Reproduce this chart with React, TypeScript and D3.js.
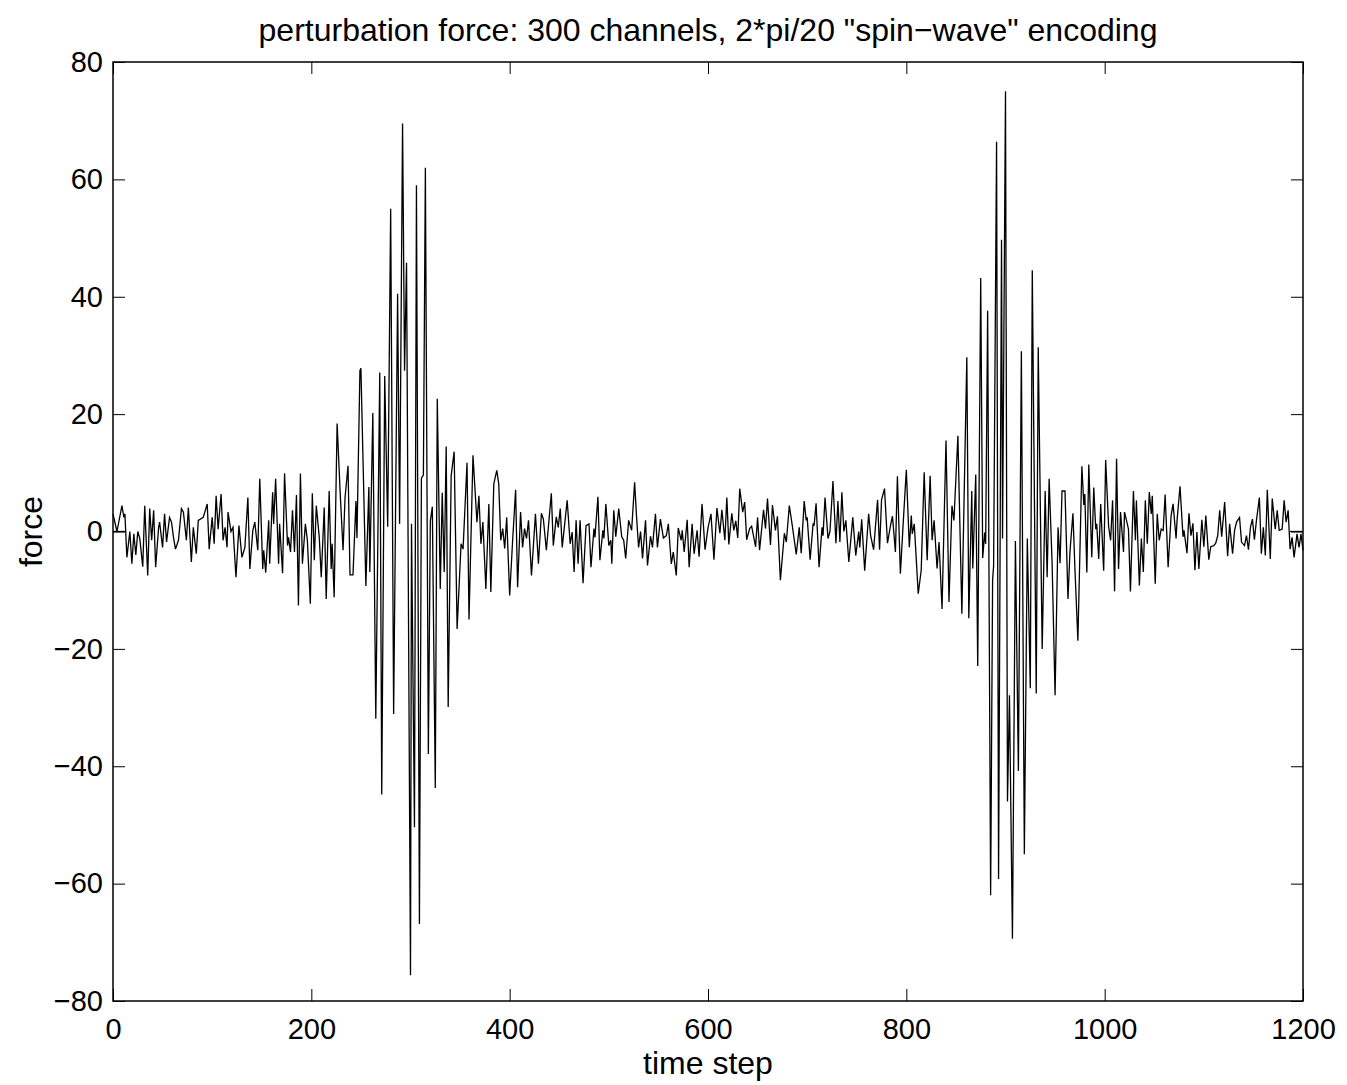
import { useEffect, useRef } from 'react';
import * as d3 from 'd3';

// [time step, force] samples, split by region
const leadIn: [number, number][] = [
  [0, 3], [4, 0], [9, 4.4], [11, 2.4], [12, 3], [14, -4.4], [17, 0], [19, -5.5], [21, -0.4], [23, -4],
  [25, 0], [27, -1.2], [30, -6], [32, 4.4], [35, -7.5], [37, 3.9], [39, -1.5], [41, 3.6], [43, -6.1], [46, 0.7],
  [47, 1.6], [50, -2.7], [52, 3], [54, -1.8], [57, 2.4], [59, 1.6], [61, -1], [63, -3], [66, -1.5], [69, 3.9],
  [71, 3.3], [74, -1.5], [76, 4.1], [79, -5.2], [81, 0.7], [84, -3.8], [86, 1.9], [91, 2.4], [95, 4.7], [97, -3],
  [100, 2.4], [102, -2.1], [104, 6.1], [106, 0.4], [109, 6.4], [111, -1.5], [113, 0.7], [115, -2.7], [116, 3.3], [119, 0],
  [121, 0.7], [124, -7.8], [127, 1], [130, -4.4], [133, -2.7], [136, 5.8], [138, -6.4], [141, 0.2], [143, 1.6], [146, -3.2],
  [148, 9], [151, -6.4], [152, -3.2], [154, -7], [157, 1.9], [158, -5.5], [161, 6.7], [162, 1.3], [164, 9], [167, -5.5],
  [168, 1.3], [171, -7.1], [173, 9.9], [176, -2.4], [177, -1], [179, -3.5], [181, 3.6], [183, -3.5], [185, 6.2], [187, -12.6],
  [189, 9.9], [191, -5.5], [194, 1.3], [196, -1.5], [199, -12.3], [201, 6.5], [203, -4.9], [205, 4.4], [208, -1], [210, -7.8],
  [213, 4.1], [215, -11.5], [218, 6.9], [220, -6.4], [221, -2.1], [223, -11.2],
];

const burstA: [number, number][] = [
  [226, 18.4], [229, 6.9], [232, -3.2], [234, 5.8], [237, 11.2], [239, -7.4], [242, -7.4], [245, 5.2], [246, -1.1], [249, 27.4],
  [250, 27.8], [253, 5.7], [255, -9.3], [258, 7.6], [259, -6.9], [262, 20.2], [265, -31.9], [269, 27.1], [271, -44.8], [274, 26.5],
  [277, 0.8], [280, 55], [283, -31.1], [287, 40.5], [289, 1.3], [292, 69.5], [294, 27.4], [296, 45.8], [300, -75.6], [301, 1.3],
  [304, -50.4], [306, 59], [309, -66.9], [311, 9.1], [313, 9.6], [315, 62], [318, -37.9], [320, 1.8], [322, 4.2], [325, -43.7],
  [327, 22.6], [330, -9.8], [332, 6.6], [334, -6.9], [336, 14.5], [338, -29.9], [341, 9.5], [344, 13.6], [347, -16.6], [351, -2.1],
  [353, -3], [357, 11.7], [359, -15], [363, 13],
];

const midA: [number, number][] = [
  [367, 1.6], [369, 6.1], [371, -2.1], [373, 1.6], [376, -9.8], [379, 4.7], [381, -10.3], [384, 8.1], [387, 10.4], [389, 8.1],
  [391, -1.5], [393, 0.5], [395, -2.9], [397, 2.4], [400, -10.9], [403, -1.5], [406, 7.1], [408, -9.5], [411, 3.3], [413, -2.7],
  [415, 0.5], [417, -1.2], [419, 1.9], [422, -7.5], [426, 3], [429, -5.5], [432, 3.1], [434, 2.1], [437, -3.2], [442, 6.5],
  [444, -2.4], [447, 2.5], [449, 0.7], [451, 3.9], [453, -2.7], [458, 5.3], [461, -2.1], [463, -0.1], [465, -6.9], [467, 1.9],
  [469, -5.5], [471, 1.9], [474, -8.8], [477, 1], [480, 1.3], [482, -6.1], [485, 0.5], [486, -1], [489, 5.9], [491, -4.9],
  [494, 0.2], [495, -1.2], [497, 4.7], [500, -2.4], [502, -1.5], [503, -5.5], [505, 3.6], [507, -0.9], [510, 3.9], [513, -0.9],
  [515, -1.5], [517, -4.6], [520, 1.9], [523, 0.2], [526, 8.4], [528, 2.4], [530, -2.7], [532, 0], [534, -4.6], [537, 1.9],
  [539, -5.8], [542, -0.8], [544, -2.7], [547, 3], [549, -2.7], [552, 2.1], [555, -1.1], [558, -0.7], [560, 1.3], [563, -5.5],
  [565, -3.5], [568, -7.5], [570, 0.6], [573, -1.5], [574, 0.2], [576, -3.5], [579, 2], [581, -6.1], [584, 1.3], [586, -3.8],
  [589, 0.2], [591, -4.3], [594, 4.7], [597, -3.1], [600, 0.6], [603, 3], [606, -4.8], [609, 4], [612, -0.3], [614, 3.7],
  [617, -1.5], [619, 5.8], [621, -2.2], [624, 3.1], [626, 0.2], [628, 1.8], [630, -1.1], [632, 7.3], [635, 3.3], [637, 5],
  [639, -1.4], [642, 0.5], [644, 0.9], [648, -2.6], [650, 2.4],
];

const midB: [number, number][] = [
  [652, -3.2], [656, 3.7], [658, 0.5], [660, 5.6], [663, -2.3], [665, 4.5], [668, 0.2], [670, 2.6], [673, -8.3], [677, -0.3],
  [679, -1.8], [682, 4.4], [685, 1], [689, -3.9], [692, 0.7], [694, -3.7], [697, 5.2], [699, 1.9], [700, 2.4], [703, -4.8],
  [706, 1.4], [707, 1], [709, 4.8], [712, -6.1], [715, 0.7], [716, -0.7], [718, 5.8], [721, -1.2], [723, 0], [726, 8.6],
  [729, -2], [731, 5.2], [733, -1.8], [735, 6.7], [737, 0], [739, 1.9], [742, -5.2], [746, 2.4], [749, -4.1], [752, 0],
  [753, -2.7], [755, 2.1], [758, -6.7], [762, 3], [764, -0.7], [767, -3.1], [771, 5.4], [773, -3.1], [775, 5.4], [778, 7.3],
  [781, -2], [784, 1], [786, 2.6], [789, -3.5], [791, 9.4], [794, -7.2], [797, 1.9], [800, 10.5], [803, -2.7], [805, 2.7],
  [806, -0.4], [808, 1.3], [812, -10.6], [815, -6.6], [818, 10.1], [821, -4.9], [824, 9.5], [826, -1.5], [828, 1.9], [831, -6.3],
  [833, -1.8], [836, -13.2], [840, 15.5], [843, -12], [846, 4.4], [848, 1.9], [852, 16.3],
];

const burstB: [number, number][] = [
  [856, -14], [861, 29.7], [863, -14.8], [866, 6.9], [867, -6.3], [870, 9.7], [872, -22.9], [875, 43.2], [877, -4.5], [879, -0.2],
  [880, -2.1], [882, 37.6], [885, -62], [887, -8.2], [888, -5.9], [891, 66.4], [893, -59.2], [896, 49.7], [897, -1.2], [900, 75],
  [902, -46], [904, -27.9], [907, -69.4], [910, -1.6], [913, -40.8], [916, 30.7], [919, -55], [922, -1.2], [925, -26.7], [927, 44.5],
  [931, -27.6], [933, 31.4], [937, -20], [940, 6.9], [942, -7.8], [944, 9], [947, -5.4], [950, -27.9], [953, 0.7], [955, -5.4],
  [957, 6.9], [960, 6.9], [963, -11.5], [965, -3.5], [968, 3.1], [970, -6.3], [973, -18.6], [977, 11.1], [979, 4.5], [980, 6.4],
];

const tail: [number, number][] = [
  [982, -7], [984, 11.4], [987, -4.4], [989, 7.5], [991, 0.4], [992, 1.3], [994, -4.7], [996, 4.7], [999, -6.7], [1001, 12.2],
  [1004, 0.8], [1006, -1.5], [1008, 5.3], [1010, -10.2], [1012, 12.4], [1014, -6.4], [1016, 3.3], [1019, -3.5], [1020, 3.3], [1022, 1.9],
  [1024, 0.4], [1026, -10.2], [1029, 6.9], [1031, -1.5], [1032, 5.3], [1035, -9.2], [1037, -1.2], [1039, -6.9], [1041, 5.3], [1043, -2.1],
  [1045, 6.7], [1047, 3], [1048, 6.1], [1051, -8.9], [1053, 3], [1055, -1.5], [1057, 0.4], [1059, 0.2], [1061, 6.3], [1064, -6.1],
  [1067, 2.7], [1069, 4.7], [1072, -1.2], [1073, 1.9], [1076, 7.7], [1079, -0.9], [1080, 0.2], [1083, -3.7], [1085, 3.1], [1087, -0.7],
  [1089, 1.4], [1091, -6.6], [1093, -0.1], [1095, -6.4], [1098, 2], [1100, -2.6], [1102, 2.7], [1105, -4.8], [1107, -2.6], [1110, -2.4],
  [1112, -2], [1114, -0.7], [1116, 3.6], [1118, -0.9], [1121, 5], [1124, -4.2], [1126, 1.3], [1129, -3.8], [1131, 0.2], [1133, 1.6],
  [1136, 2.4], [1138, -1.8], [1141, -2.4], [1143, -0.7], [1145, -3.1], [1147, 0.7], [1149, 2.1], [1151, -1.4], [1153, 1.8], [1156, 5.8],
  [1158, -3.8], [1160, 0.7], [1162, -4.1], [1164, 7.1], [1167, -4.7], [1169, 5.6], [1172, 0.4], [1174, 3.6], [1176, 0.2], [1179, 0.4],
  [1181, 5.3], [1183, 1.6], [1185, 3.6], [1187, -3], [1189, -1], [1191, -4.4], [1194, -0.4], [1196, -2.7], [1198, -0.4], [1200, -3.2],
];

// flat zero stretches at both ends
const zeroPads: [number, number][] = [[0, 12], [1187, 1200]];

const xTicks = [0, 200, 400, 600, 800, 1000, 1200];
const yTicks = [-80, -60, -40, -20, 0, 20, 40, 60, 80];

const W = 1347;
const H = 1085;
const FONT = '"Liberation Sans", Arial, Helvetica, sans-serif';

export default function App() {
  const svgRef = useRef<SVGSVGElement>(null);

  useEffect(() => {
    const svg = d3.select(svgRef.current);
    svg.selectAll('*').remove();

    const margin = { top: 62, right: 44, bottom: 84, left: 113 };
    const x = d3.scaleLinear().domain([0, 1200]).range([margin.left, W - margin.right]);
    const y = d3.scaleLinear().domain([-80, 80]).range([H - margin.bottom, margin.top]);
    const fmt = d3.format('d');

    svg.append('rect').attr('width', W).attr('height', H).attr('fill', '#fff');

    const data = [...leadIn, ...burstA, ...midA, ...midB, ...burstB, ...tail];
    const line = d3.line<[number, number]>().x((d) => x(d[0])).y((d) => y(d[1]));

    const plot = svg.append('g');
    plot
      .append('path')
      .datum(data)
      .attr('d', line)
      .attr('fill', 'none')
      .attr('stroke', '#000')
      .attr('stroke-width', 1.3)
      .attr('stroke-linejoin', 'miter');

    plot
      .selectAll('.pad')
      .data(zeroPads)
      .enter()
      .append('line')
      .attr('x1', (d) => x(d[0]))
      .attr('x2', (d) => x(d[1]))
      .attr('y1', y(0))
      .attr('y2', y(0))
      .attr('stroke', '#000')
      .attr('stroke-width', 1.3);

    const tickLen = 12;

    // bottom axis with labels
    const gx = svg
      .append('g')
      .attr('transform', `translate(0,${y(-80)})`)
      .call(
        d3.axisBottom(x).tickValues(xTicks).tickFormat(fmt).tickSizeInner(-tickLen).tickSizeOuter(0).tickPadding(17)
      );
    gx.select('.domain').remove();
    gx.selectAll('text').style('font-family', FONT).style('font-size', '29px').attr('fill', '#000');
    gx.selectAll('line').attr('stroke', '#000');

    // top ticks
    const gxt = svg
      .append('g')
      .attr('transform', `translate(0,${y(80)})`)
      .call(d3.axisTop(x).tickValues(xTicks).tickSizeInner(-tickLen).tickSizeOuter(0).tickFormat(() => ''));
    gxt.select('.domain').remove();
    gxt.selectAll('line').attr('stroke', '#000');

    // left axis with labels
    const gy = svg
      .append('g')
      .attr('transform', `translate(${x(0)},0)`)
      .call(
        d3.axisLeft(y).tickValues(yTicks).tickFormat(fmt).tickSizeInner(-tickLen).tickSizeOuter(0).tickPadding(10)
      );
    gy.select('.domain').remove();
    gy.selectAll('text').style('font-family', FONT).style('font-size', '29px').attr('fill', '#000');
    gy.selectAll('line').attr('stroke', '#000');

    // right ticks
    const gyr = svg
      .append('g')
      .attr('transform', `translate(${x(1200)},0)`)
      .call(d3.axisRight(y).tickValues(yTicks).tickSizeInner(-tickLen).tickSizeOuter(0).tickFormat(() => ''));
    gyr.select('.domain').remove();
    gyr.selectAll('line').attr('stroke', '#000');

    // frame
    svg
      .append('rect')
      .attr('x', x(0))
      .attr('y', y(80))
      .attr('width', x(1200) - x(0))
      .attr('height', y(-80) - y(80))
      .attr('fill', 'none')
      .attr('stroke', '#000')
      .attr('stroke-width', 1.5);

    const cx = (x(0) + x(1200)) / 2;

    svg
      .append('text')
      .attr('x', cx)
      .attr('y', 41)
      .attr('text-anchor', 'middle')
      .style('font-family', FONT)
      .style('font-size', '32px')
      .text('perturbation force: 300 channels, 2*pi/20 "spin\u2212wave" encoding');

    svg
      .append('text')
      .attr('x', cx)
      .attr('y', 1074)
      .attr('text-anchor', 'middle')
      .style('font-family', FONT)
      .style('font-size', '32px')
      .text('time step');

    svg
      .append('text')
      .attr('transform', `translate(42,${y(0)}) rotate(-90)`)
      .attr('text-anchor', 'middle')
      .style('font-family', FONT)
      .style('font-size', '32px')
      .text('force');
  }, []);

  return (
    <svg
      ref={svgRef}
      width={W}
      height={H}
      style={{ position: 'absolute', left: 0, top: 0, display: 'block' }}
    />
  );
}
